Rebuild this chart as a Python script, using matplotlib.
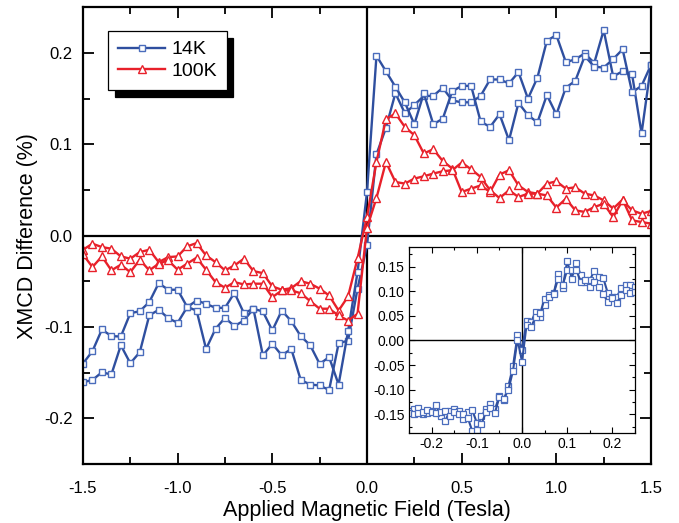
import numpy as np
import matplotlib
matplotlib.use("Agg")
import matplotlib.pyplot as plt
from matplotlib.ticker import MultipleLocator

plt.rcParams['font.family'] = ['Liberation Sans', 'DejaVu Sans']
plt.rcParams['axes.unicode_minus'] = False

# field sweep, -1.5 .. 1.5 T in 0.05 T steps
field = np.round(np.arange(-1.5, 1.5001, 0.05), 2)

# 14K, two sweep branches
k14_a = [-0.140, -0.1265, -0.1027, -0.110, -0.1104, -0.0849, -0.0827, -0.0728, -0.052, -0.0592,
         -0.0592, -0.078, -0.082, -0.124, -0.102, -0.090, -0.099, -0.0929, -0.080, -0.131,
         -0.1184, -0.131, -0.124, -0.158, -0.163, -0.164, -0.169, -0.118, -0.1148, -0.058,
         -0.0106,
         0.089, 0.118, 0.156, 0.134, 0.143, 0.153, 0.153, 0.162, 0.148, 0.146,
         0.146, 0.153, 0.171, 0.171, 0.1667, 0.179, 0.150, 0.173, 0.2134, 0.2196,
         0.190, 0.193, 0.1996, 0.189, 0.225, 0.1743, 0.180, 0.1765, 0.112, 0.187]
k14_b = [-0.1605, -0.158, -0.1496, -0.152, -0.120, -0.1397, -0.1276, -0.0874, -0.0811, -0.0903,
         -0.0954, -0.0783, -0.071, -0.0746, -0.079, -0.079, -0.0625, -0.0849, -0.080, -0.083,
         -0.1038, -0.082, -0.0936, -0.110, -0.120, -0.1404, -0.133, -0.163, -0.1046, -0.040,
         0.0476,
         0.197, 0.180, 0.163, 0.1458, 0.122, 0.156, 0.122, 0.128, 0.158, 0.164,
         0.164, 0.125, 0.119, 0.133, 0.1045, 0.1454, 0.132, 0.124, 0.154, 0.1327,
         0.162, 0.1695, 0.1966, 0.185, 0.184, 0.1933, 0.204, 0.157, 0.164, 0.187]

# 100K, two sweep branches
k100_a = [-0.0154, -0.0088, -0.0125, -0.0143, -0.0227, -0.0252, -0.018, -0.0154, -0.029, -0.0235,
          -0.0227, -0.0117, -0.0081, -0.0216, -0.029, -0.038, -0.0326, -0.0252, -0.0388, -0.041,
          -0.0556, -0.0592, -0.0575, -0.0498, -0.0526, -0.058, -0.0655, -0.082, -0.0666, -0.025,
          0.0204,
          0.0807, 0.1275, 0.1338, 0.119, 0.110, 0.090, 0.0946, 0.0818, 0.0735, 0.0478,
          0.0515, 0.055, 0.0478, 0.0669, 0.0716, 0.055, 0.0478, 0.046, 0.057, 0.0595,
          0.0515, 0.053, 0.046, 0.044, 0.0387, 0.0296, 0.0395, 0.0168, 0.0149, 0.0132]
k100_b = [-0.0205, -0.0344, -0.0227, -0.038, -0.0318, -0.040, -0.0263, -0.038, -0.0307, -0.027,
          -0.0373, -0.0307, -0.0241, -0.0373, -0.0509, -0.057, -0.0509, -0.0534, -0.0526, -0.0526,
          -0.0673, -0.060, -0.060, -0.063, -0.0717, -0.080, -0.080, -0.0874, -0.093, -0.0855,
          0.0088,
          0.0412, 0.0807, 0.0588, 0.057, 0.0625, 0.065, 0.068, 0.0705, 0.0716, 0.080,
          0.0727, 0.0643, 0.0497, 0.0412, 0.0497, 0.0423, 0.046, 0.046, 0.044, 0.0307,
          0.0405, 0.0277, 0.026, 0.0313, 0.035, 0.0204, 0.0387, 0.0277, 0.024, 0.027]

# inset: 14K low field, -0.25 .. 0.25 T in 0.01 T steps
field_low = np.round(np.arange(-0.25, 0.2501, 0.01), 2)
low_a = [-0.143, -0.140, -0.1366, -0.150, -0.147, -0.1434, -0.132, -0.1537, -0.164, -0.1434,
         -0.1386, -0.1434, -0.1605, -0.1455, -0.1414, -0.1674, -0.1537, -0.140, -0.130, -0.140,
         -0.1127, -0.121, -0.092, -0.0527, 0.0102,
         -0.0184,
         0.039, 0.0376, 0.058, 0.048, 0.073, 0.092, 0.0956, 0.1346, 0.107, 0.162,
         0.126, 0.158, 0.133, 0.1195, 0.123, 0.1414, 0.130, 0.1264, 0.0956, 0.0888,
         0.089, 0.107, 0.1127, 0.1127, 0.109]
low_b = [-0.147, -0.150, -0.147, -0.145, -0.141, -0.145, -0.147, -0.145, -0.1434, -0.1537,
         -0.145, -0.150, -0.150, -0.157, -0.1844, -0.1824, -0.1707, -0.1455, -0.137, -0.147,
         -0.115, -0.118, -0.100, -0.0615, 0.002,
         -0.043,
         0.031, 0.027, 0.048, 0.055, 0.085, 0.089, 0.095, 0.126, 0.1127, 0.1434,
         0.1434, 0.1434, 0.1195, 0.123, 0.109, 0.1195, 0.109, 0.0936, 0.0785, 0.087,
         0.0772, 0.092, 0.1025, 0.0956, 0.099]

blue = '#2f4f9f'
red = '#e8202a'

fig = plt.figure(figsize=(6.79, 5.23), dpi=100)
ax = fig.add_axes([0.1222, 0.1128, 0.8366, 0.8732])

sq = dict(marker='s', ms=5, mfc='white', mec='#4a6cbc', mew=1.0)
tri = dict(marker='^', ms=6, mfc='white', mec=red, mew=1.0)
ax.plot(field, k14_a, color=blue, lw=1.7, label='14K', **sq)
ax.plot(field, k14_b, color=blue, lw=1.7, **sq)
ax.plot(field, k100_a, color=red, lw=1.7, label='100K', **tri)
ax.plot(field, k100_b, color=red, lw=1.7, **tri)
ax.axhline(0, color='k', lw=1.6, zorder=1)
ax.axvline(0, color='k', lw=1.6, zorder=1)

ax.set_xlim(-1.5, 1.5)
ax.set_ylim(-0.25, 0.25)
ax.xaxis.set_major_locator(MultipleLocator(0.5))
ax.xaxis.set_minor_locator(MultipleLocator(0.25))
ax.yaxis.set_major_locator(MultipleLocator(0.1))
ax.yaxis.set_minor_locator(MultipleLocator(0.05))
ax.tick_params(which='both', direction='in', top=True, right=True, width=1.3, labelsize=12)
ax.tick_params(which='major', length=8)
ax.tick_params(which='minor', length=5)
ax.tick_params(axis='x', which='major', pad=12)
ax.tick_params(axis='y', which='major', pad=7.5)
for s in ax.spines.values():
    s.set_linewidth(1.6)
ax.set_xlabel('Applied Magnetic Field (Tesla)', fontsize=15.5, labelpad=3)
ax.set_ylabel('XMCD Difference (%)', fontsize=15.5, labelpad=4)

leg = ax.legend(loc='upper left', bbox_to_anchor=(0.044, 0.948), borderaxespad=0,
                fontsize=14, fancybox=False, framealpha=1, edgecolor='k',
                handlelength=2.45, handletextpad=0.3, borderpad=0.5, labelspacing=0.22,
                numpoints=1,
                shadow={'ox': 5, 'oy': -5, 'facecolor': 'black', 'edgecolor': 'black', 'alpha': 1})
leg.get_frame().set_linewidth(0.9)

# inset
ins = fig.add_axes([0.6024, 0.1721, 0.3328, 0.3556])
ins.set_facecolor('white')
ins.plot(field_low, low_a, color=blue, lw=1.5, marker='s', ms=4, mfc='white', mec='#4a6cbc', mew=0.9)
ins.plot(field_low, low_b, color=blue, lw=1.5, marker='s', ms=4, mfc='white', mec='#4a6cbc', mew=0.9)
ins.axhline(0, color='k', lw=1.0, zorder=1)
ins.axvline(0, color='k', lw=1.0, zorder=1)
ins.set_xlim(-0.25, 0.25)
ins.set_ylim(-0.188, 0.19)
ins.xaxis.set_major_locator(MultipleLocator(0.1))
ins.xaxis.set_minor_locator(MultipleLocator(0.05))
ins.yaxis.set_major_locator(MultipleLocator(0.05))
ins.yaxis.set_minor_locator(MultipleLocator(0.025))
ins.tick_params(which='both', direction='in', top=True, right=True, width=0.8, labelsize=10)
ins.tick_params(which='major', length=4, pad=3)
ins.tick_params(which='minor', length=2.5)
for s in ins.spines.values():
    s.set_linewidth(0.9)

fig.savefig('out.png', dpi=100)
